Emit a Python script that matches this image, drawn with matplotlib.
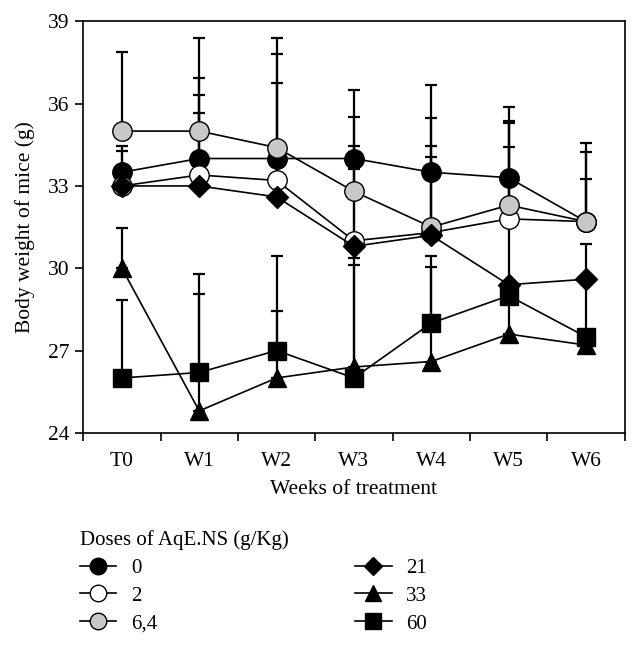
import matplotlib
matplotlib.use("Agg")
import matplotlib.pyplot as plt
import numpy as np

plt.rcParams['font.family'] = ['Liberation Serif', 'DejaVu Serif']

weeks = ["T0", "W1", "W2", "W3", "W4", "W5", "W6"]
doses = ["0", "2", "6,4", "21", "33", "60"]

mean_0 = [33.5, 34.0, 34.0, 34.0, 33.5, 33.3, 31.7]
mean_2 = [33.0, 33.4, 33.2, 31.0, 31.3, 31.8, 31.7]
mean_64 = [35.0, 35.0, 34.4, 32.8, 31.5, 32.3, 31.7]
mean_21 = [33.0, 33.0, 32.6, 30.8, 31.2, 29.4, 29.6]
mean_33 = [30.0, 24.8, 26.0, 26.4, 26.6, 27.6, 27.2]
mean_60 = [26.0, 26.2, 27.0, 26.0, 28.0, 29.0, 27.5]

err_0 = [0.97, 2.93, 3.8, 2.51, 3.18, 2.56, 2.86]
err_2 = [1.28, 2.93, 3.57, 3.47, 3.14, 3.48, 1.56]
err_64 = [2.9, 3.4, 4.0, 2.7, 3.96, 3.08, 2.52]
err_21 = [0.0, 2.67, 0.0, 2.82, 2.85, 0.0, 0.0]
err_33 = [1.46, 4.27, 2.44, 3.97, 3.44, 6.83, 0.0]
err_60 = [2.83, 3.58, 3.43, 4.13, 2.43, 0.0, 3.37]

means = [mean_0, mean_2, mean_64, mean_21, mean_33, mean_60]
errs = [err_0, err_2, err_64, err_21, err_33, err_60]
markers = ['o', 'o', 'o', 'D', '^', 's']
faces = ['black', 'white', '#c8c8c8', 'black', 'black', 'black']
sizes = [14, 14, 14, 11, 13, 13]

fig = plt.figure(figsize=(6.4, 6.47), dpi=100)
ax = fig.add_axes([0.130, 0.331, 0.846, 0.636])

x = np.arange(len(weeks))
for i in range(len(doses)):
    ax.errorbar(x, means[i], yerr=[np.zeros(len(x)), errs[i]], fmt='none',
                ecolor='black', elinewidth=1.6, capsize=4, capthick=1.6, zorder=1)

handles = []
for i in range(len(doses)):
    h, = ax.plot(x, means[i], color='black', lw=1.2, marker=markers[i],
                 markersize=sizes[i], markerfacecolor=faces[i],
                 markeredgecolor='black', markeredgewidth=1.0,
                 zorder=3 + i, label=doses[i])
    handles.append(h)

ax.set_xlim(-0.5, 6.5)
ax.set_ylim(24, 39)
ax.set_yticks([24, 27, 30, 33, 36, 39])
ax.set_xticks(x)
ax.set_xticklabels(weeks)
ax.set_xticks(np.arange(-0.5, 7, 1), minor=True)
ax.tick_params(axis='x', which='major', length=0, pad=14, labelsize=15.5)
ax.tick_params(axis='x', which='minor', length=6, width=1.2, direction='out')
ax.tick_params(axis='y', length=6, width=1.2, direction='out', labelsize=15.5, pad=4)
for s in ax.spines.values():
    s.set_linewidth(1.2)

ax.set_xlabel("Weeks of treatment", fontsize=15.5, labelpad=6)
ax.set_ylabel("Body weight of mice (g)", fontsize=15.5, labelpad=9)

leg = fig.legend(handles=handles, loc='upper left', bbox_to_anchor=(0.125, 1 - 530 / 647),
                 ncol=2, frameon=False, fontsize=15, title="Doses of AqE.NS (g/Kg)",
                 title_fontsize=15, alignment='left', handlelength=1.75,
                 columnspacing=9.5, labelspacing=0.4, borderpad=0, borderaxespad=0,
                 handletextpad=0.7, markerscale=0.85)

fig.savefig("out.png", dpi=100)
